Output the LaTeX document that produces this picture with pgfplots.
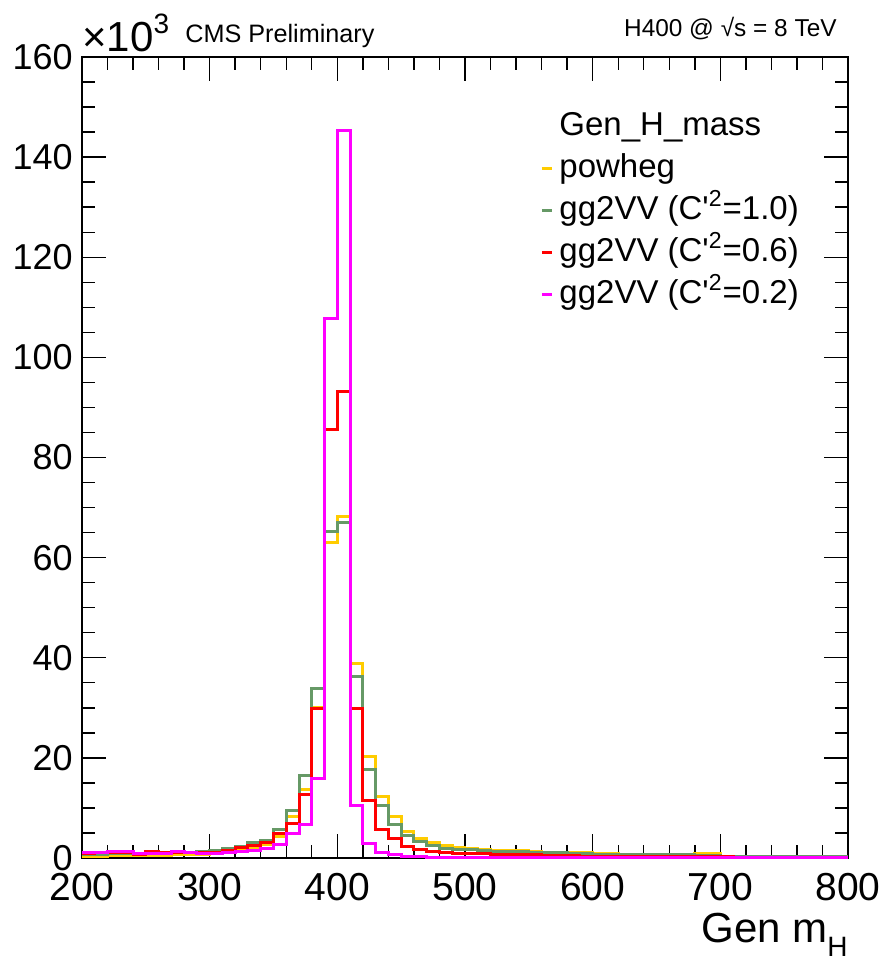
\documentclass[border=0pt]{standalone}
\usepackage{fontspec}
\setmainfont{Liberation Sans}
\usepackage{pgfplots}
\pgfplotsset{compat=1.18}
\usepackage{pgfplotstable}

\definecolor{pwyel}{RGB}{255,204,0}
\definecolor{ggreen}{RGB}{102,153,102}
\definecolor{gred}{RGB}{255,0,0}
\definecolor{gmag}{RGB}{255,0,255}

% Gen H mass, 10 GeV bins, counts in units of 10^3 (last row closes the step)
\pgfplotstableread{
x    pw    g10   g06   g02
200  0.3   0.6   0.8   1.0
210  0.3   0.7   1.0   1.0
220  0.5   0.8   1.1   1.3
230  0.5   0.8   1.0   1.3
240  0.4   0.8   0.7   0.9
250  0.5   1.1   1.3   0.8
260  0.5   1.0   1.1   0.8
270  0.6   1.0   1.0   1.3
280  0.6   1.1   1.1   1.1
290  0.7   1.3   1.0   0.9
300  0.8   1.5   1.1   0.9
310  1.0   1.8   1.5   1.0
320  1.4   2.3   2.0   1.2
330  2.0   3.0   2.5   1.5
340  2.7   3.5   3.0   1.8
350  4.2   5.6   4.8   2.6
360  8.3   9.4   6.8   4.8
370  13.6  16.5  12.7  6.7
380  30.1  33.9  29.8  15.9
390  63.1  65.2  85.5  107.7
400  68.3  67.0  93.1  145.4
410  38.8  36.2  29.9  10.5
420  20.2  17.7  11.4  2.9
430  12.3  10.4  5.7   1.1
440  8.3   6.6   3.8   0.6
450  5.2   4.4   2.3   0.3
460  3.9   3.2   1.7   0.2
470  3.0   2.4   1.2   0.1
480  2.4   1.9   1.0   0.1
490  2.1   1.6   0.9   0.1
500  1.9   1.6   0.9   0.1
510  1.7   1.4   0.8   0.1
520  1.5   1.3   0.7   0.1
530  1.5   1.2   0.7   0.1
540  1.4   1.2   0.6   0.1
550  1.3   1.1   0.6   0.1
560  1.1   1.0   0.4   0.1
570  1.1   1.0   0.4   0.1
580  1.0   0.9   0.4   0.1
590  1.0   0.9   0.3   0.1
600  0.8   0.7   0.3   0.1
610  0.8   0.7   0.3   0.1
620  0.7   0.7   0.3   0.1
630  0.7   0.7   0.3   0.1
640  0.7   0.7   0.3   0.1
650  0.7   0.7   0.3   0.1
660  0.7   0.7   0.3   0.1
670  0.7   0.7   0.3   0.1
680  0.8   0.4   0.2   0.1
690  0.8   0.4   0.2   0.1
700  0.2   0.3   0.2   0.1
710  0.2   0.2   0.1   0.1
720  0.2   0.2   0.1   0.1
730  0.2   0.2   0.1   0.1
740  0.2   0.2   0.1   0.1
750  0.2   0.2   0.1   0.1
760  0.2   0.2   0.1   0.1
770  0.2   0.2   0.1   0.1
780  0.2   0.2   0.1   0.1
790  0.2   0.2   0.1   0.1
800  0.2   0.2   0.1   0.1
}\hmass

\begin{document}
\begin{tikzpicture}
\path[use as bounding box] (-41pt,-57pt) rectangle (398.5pt,429pt);
\begin{axis}[at={(0,0)},anchor=south west,scale only axis,
  width=383pt,height=400.5pt,
  xmin=200,xmax=800,ymin=0,ymax=160,
  xtick={200,300,...,800},ytick={0,20,...,160},
  minor x tick num=4,minor y tick num=3,
  tick align=inside,major tick length=12pt,minor tick length=6.5pt,
  every tick/.style={black,line width=0.7pt},
  axis line style={line width=1pt},
  /pgf/number format/assume math mode=true,
  xticklabel style={font=\fontsize{19.5}{22}\selectfont,inner sep=0pt,anchor=north,yshift=-7.5pt},
  yticklabel style={font=\fontsize{18}{21}\selectfont,inner sep=0pt,anchor=east,xshift=-4.5pt},
  clip=false,
  legend cell align=left,
  legend image code/.code={\draw[#1,line width=1.5pt] (0pt,0pt) -- (5pt,0pt);},
  legend style={at={(0.598,0.933)},anchor=north west,draw=none,fill=none,
    inner sep=0pt,font=\fontsize{16.5}{19}\selectfont,row sep=5.5pt,column sep=3pt,
    nodes={inner sep=0pt,text height=12pt,text depth=3.5pt}},
  ]
\addlegendimage{empty legend}
\addlegendentry{Gen\_H\_mass}
\addplot[const plot mark left,pwyel,line width=1.5pt] table[x=x,y=pw] {\hmass};
\addlegendentry{powheg}
\addplot[const plot mark left,ggreen,line width=1.5pt] table[x=x,y=g10] {\hmass};
\addlegendentry{gg2VV (C\textquotesingle\textsuperscript{2}=1.0)}
\addplot[const plot mark left,gred,line width=1.5pt] table[x=x,y=g06] {\hmass};
\addlegendentry{gg2VV (C\textquotesingle\textsuperscript{2}=0.6)}
\addplot[const plot mark left,gmag,line width=1.5pt] table[x=x,y=g02] {\hmass};
\addlegendentry{gg2VV (C\textquotesingle\textsuperscript{2}=0.2)}
\end{axis}
\node[anchor=base west,inner sep=0pt,font=\fontsize{21}{24}\selectfont] at (0pt,403pt)
  {×10\raisebox{9pt}{\fontsize{14}{16}\selectfont 3}};
\node[anchor=base west,inner sep=0pt,font=\fontsize{12.6}{15}\selectfont] at (51.5pt,407.5pt)
  {CMS Preliminary};
\node[anchor=base east,inner sep=0pt,font=\fontsize{12.2}{15}\selectfont] at (377.5pt,410.5pt)
  {H400 @ √s = 8 TeV};
\node[anchor=base east,inner sep=0pt,font=\fontsize{21}{24}\selectfont] at (383pt,-42pt)
  {Gen m\raisebox{-7pt}{\fontsize{14}{16}\selectfont H}};
\end{tikzpicture}
\end{document}
